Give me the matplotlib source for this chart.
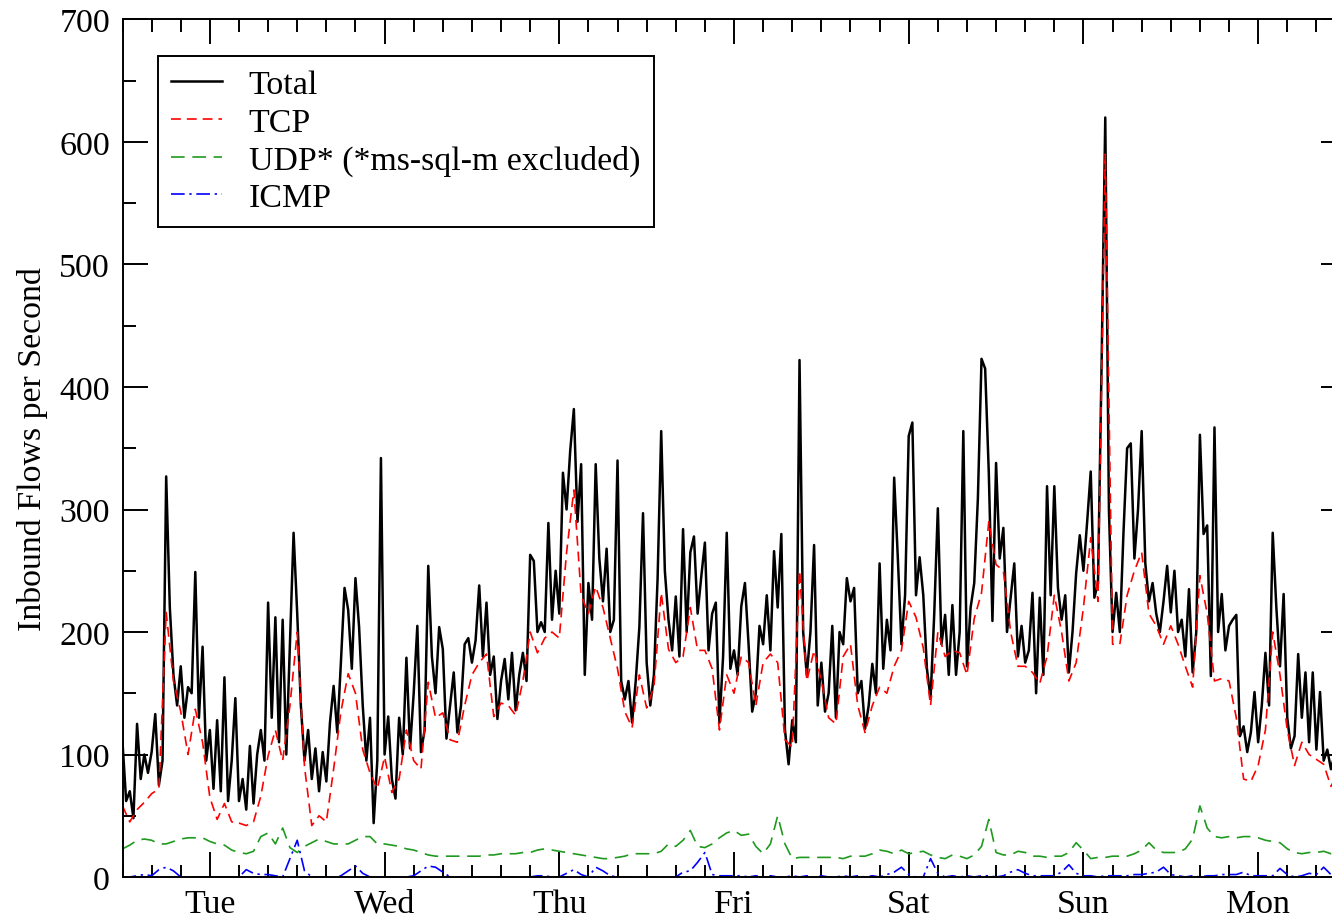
import numpy as np
import matplotlib
matplotlib.use("Agg")
import matplotlib.pyplot as plt
from matplotlib.ticker import MultipleLocator

plt.rcParams["font.family"] = "Liberation Serif"
plt.rcParams["font.size"] = 24.4

# inbound flows per second, half-hour samples from Monday 12:00
total = [
    110, 62, 70, 48, 125, 80, 100, 85, 102, 133,
    75, 95, 327, 220, 165, 140, 172, 130, 155, 150,
    249, 130, 188, 95, 120, 72, 128, 70, 163, 62,
    95, 146, 62, 80, 55, 107, 60, 100, 120, 95,
    224, 130, 212, 110, 210, 100, 190, 281, 215, 140,
    95, 120, 80, 105, 70, 102, 78, 126,
    156, 118, 175, 236, 218, 170, 244, 204, 140, 95,
    130, 44, 95, 342, 100, 131, 80, 64, 130, 100,
    179, 105, 150, 205, 102, 120, 254, 180, 150, 204,
    186, 113, 140, 167, 118, 140, 190, 195, 175, 193,
    238, 180, 224, 165, 180, 129, 160, 178, 145, 183,
    136, 165, 183, 160, 263, 258, 200,
    208, 200, 289, 210, 250, 215, 330, 300, 348, 382,
    290, 337, 165, 240, 210, 337, 260, 225, 268, 200,
    210, 340, 160, 145, 160, 126, 160, 204, 297, 175,
    140, 165, 243, 364, 250, 210, 185, 229, 180, 284,
    200, 265, 278, 215, 245, 273, 185, 215, 224, 126,
    180, 281, 170, 185, 165, 221,
    240, 190, 135, 150, 205, 190, 230, 185, 266, 220,
    280, 120, 92, 128, 110, 422, 200, 165, 200, 271,
    140, 175, 135, 150, 205, 130, 200, 190, 244, 225,
    236, 150, 160, 121, 140, 174, 150, 256, 170, 210,
    185, 326, 261, 190, 230, 360, 371, 230, 261, 230,
    170, 146, 214, 301, 190, 214,
    165, 222, 165, 200, 364, 172, 220, 240, 309, 423,
    415, 330, 209, 338, 260, 285, 200, 228, 256, 180,
    205, 175, 185, 232, 150, 228, 165, 319, 230, 319,
    236, 210, 230, 167, 200, 248, 279, 250, 289, 331,
    228, 240, 421, 620, 300, 200, 232, 200, 281, 350,
    354, 260, 300, 364, 256, 225, 240,
    215, 200, 225, 254, 216, 250, 200, 210, 180, 235,
    167, 200, 361, 280, 287, 164, 367, 200, 231, 185,
    205, 210, 214, 115, 123, 102, 118, 151, 110, 140,
    183, 140, 281, 220, 172, 231, 130, 105, 115, 182,
    130, 167, 110, 167, 104, 151, 95, 104, 88, 100,
    90, 105, 95,
]

# per-protocol flows, hourly samples from Monday 12:00
tcp = [
    58, 45, 55, 61, 68, 72, 216, 160, 135, 100,
    137, 110, 65, 47, 60, 45, 44, 42, 45, 66,
    99, 120, 95, 140, 200, 90, 42, 50, 45,
    88, 135, 166, 150, 104, 85, 72, 98, 69, 80,
    120, 95, 88, 159, 130, 134, 112, 110, 140, 165,
    175, 182, 131, 142, 140, 132, 160, 200,
    183, 195, 200, 195, 265, 316, 230, 215, 237, 220,
    195, 170, 135, 122, 165, 138, 155, 232, 186, 175,
    180, 220, 185, 185, 170, 120, 165, 150, 180,
    175, 140, 175, 182, 175, 112, 106, 250, 160, 185,
    160, 130, 125, 180, 190, 140, 118, 140, 155, 150,
    172, 185, 225, 212, 187, 140, 200, 180,
    185, 183, 165, 211, 232, 290, 255, 250, 200, 172,
    172, 167, 158, 180, 230, 200, 160, 175, 220, 277,
    225, 590, 190, 190, 230, 250, 265, 215, 205,
    190, 205, 190, 172, 155, 246, 215, 160, 162, 160,
    130, 80, 78, 91, 120, 200, 165, 120, 91, 110,
    100, 96, 92, 74, 85, 90,
]

udp = [
    23, 26, 30, 31, 30, 27, 27, 29, 31, 32,
    32, 32, 29, 27, 26, 22, 20, 19, 21, 33,
    36, 27, 40, 24, 20, 25, 28, 31, 29,
    27, 27, 27, 30, 33, 33, 27, 27, 26, 25,
    23, 22, 20, 18, 17, 17, 17, 17, 17, 17,
    17, 18, 18, 19, 19, 19, 20, 20,
    22, 23, 22, 21, 20, 19, 18, 17, 16, 15,
    15, 16, 17, 19, 19, 19, 19, 21, 27, 25,
    30, 38, 25, 24, 27, 32, 36, 38, 34,
    35, 25, 19, 27, 50, 27, 15, 16, 16, 16,
    16, 16, 16, 15, 17, 17, 17, 19, 22, 21,
    19, 22, 19, 20, 21, 18, 16, 15,
    18, 17, 15, 18, 25, 47, 20, 18, 18, 21,
    20, 17, 17, 16, 17, 17, 20, 28, 22, 15,
    16, 16, 17, 17, 17, 19, 22, 28, 22,
    20, 20, 20, 23, 31, 58, 40, 33, 32, 33,
    32, 33, 33, 32, 30, 29, 28, 23, 20, 19,
    20, 20, 21, 19, 20, 19,
]

icmp = [
    0, 0, 1, 2, 1, 6, 8, 5, 0, 0,
    0, 0, 0, 0, 0, 0, 0, 6, 3, 2,
    2, 1, 0, 15, 30, 5, 0, 0, 0,
    0, 1, 5, 9, 3, 0, 0, 0, 0, 0,
    0, 1, 5, 9, 8, 4, 0, 0, 0, 0,
    0, 0, 0, 0, 0, 0, 0, 0,
    1, 1, 0, 0, 3, 6, 2, 0, 8, 5,
    1, 0, 0, 0, 0, 0, 0, 0, 0, 0,
    4, 5, 12, 20, 2, 1, 1, 1, 1,
    0, 1, 0, 1, 0, 0, 1, 0, 1, 0,
    1, 0, 0, 1, 0, 1, 0, 1, 0, 2,
    4, 8, 2, 0, 0, 15, 3, 0,
    1, 0, 1, 0, 1, 1, 0, 1, 4, 6,
    3, 1, 1, 1, 1, 4, 10, 3, 1, 1,
    0, 1, 1, 1, 1, 2, 2, 3, 4,
    8, 2, 1, 0, 1, 0, 1, 1, 2, 2,
    2, 4, 1, 1, 1, 1, 7, 2, 0, 1,
    3, 2, 8, 2, 1, 1,
]

day_names = ["Tue", "Wed", "Thu", "Fri", "Sat", "Sun", "Mon"]

# hours since Monday 00:00
t_half = 12 + 0.5 * np.arange(len(total))
t_hour = 12 + np.arange(len(tcp))

fig = plt.figure(figsize=(13.32, 9.20), dpi=100)
ax = fig.add_axes([0.09197, 0.04565, 0.91817, 0.93207])

ax.plot(t_half, total, color="black", lw=1.8, label="Total")
ax.plot(t_hour, tcp, color="#ff0000", lw=1.2, dashes=(5.9, 3.6), label="TCP")
ax.plot(t_hour, udp, color="#1f9a1f", lw=1.2, dashes=(8.2, 4.6),
        label="UDP* (*ms-sql-m excluded)")
ax.plot(t_hour, icmp, color="#0000ff", lw=1.2, dashes=(8.2, 2.8, 1.4, 2.8),
        label="ICMP")

ax.set_xlim(12, 180)
ax.set_ylim(0, 700)

ax.set_xticks(np.arange(24, 169, 24))
ax.set_xticklabels(day_names)
ax.xaxis.set_minor_locator(MultipleLocator(4))
ax.yaxis.set_major_locator(MultipleLocator(100))
ax.yaxis.set_minor_locator(MultipleLocator(50))

ax.tick_params(which="both", direction="in", top=True, right=True, width=1.4)
ax.tick_params(which="major", length=18)
ax.tick_params(which="minor", length=9)
ax.tick_params(axis="y", which="major", pad=9)
ax.tick_params(axis="x", which="major", pad=8)
for sp in ax.spines.values():
    sp.set_linewidth(1.4)

ax.set_ylabel("Inbound Flows per Second")
ax.yaxis.set_label_coords(-0.061, 0.5)

leg = ax.legend(loc="upper left", bbox_to_anchor=(0.0288, 0.9574),
                borderaxespad=0, fancybox=False, framealpha=1,
                edgecolor="black", handlelength=1.5, handletextpad=0.78,
                borderpad=0.4, labelspacing=0.2)
leg.get_frame().set_linewidth(1.4)

fig.savefig("out.png", dpi=100)
